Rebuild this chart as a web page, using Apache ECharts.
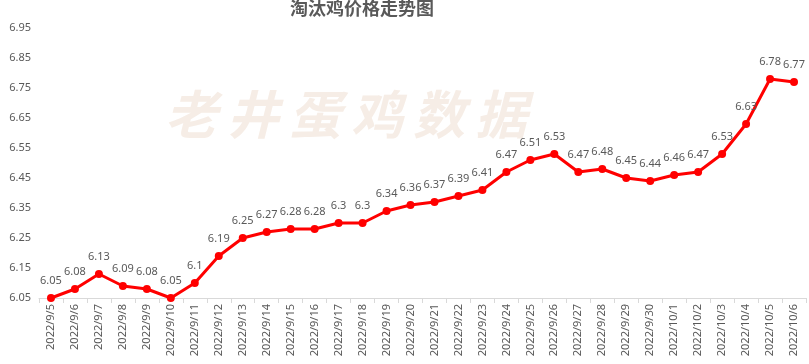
<!DOCTYPE html>
<html><head><meta charset="utf-8">
<script src="https://cdn.jsdelivr.net/npm/echarts@6/dist/echarts.min.js"></script>
<style>html,body{margin:0;padding:0;background:#fff}#c{width:809px;height:364px}</style>
</head><body><div id="c"></div>
<script>
const categories = ['2022/9/5','2022/9/6','2022/9/7','2022/9/8','2022/9/9','2022/9/10','2022/9/11','2022/9/12','2022/9/13','2022/9/14','2022/9/15','2022/9/16','2022/9/17','2022/9/18','2022/9/19','2022/9/20','2022/9/21','2022/9/22','2022/9/23','2022/9/24','2022/9/25','2022/9/26','2022/9/27','2022/9/28','2022/9/29','2022/9/30','2022/10/1','2022/10/2','2022/10/3','2022/10/4','2022/10/5','2022/10/6'];
const prices = [6.05,6.08,6.13,6.09,6.08,6.05,6.1,6.19,6.25,6.27,6.28,6.28,6.3,6.3,6.34,6.36,6.37,6.39,6.41,6.47,6.51,6.53,6.47,6.48,6.45,6.44,6.46,6.47,6.53,6.63,6.78,6.77];
const yMin = 6.05, yMax = 6.95, yStep = 0.1;
const titleText = '淘汰鸡价格走势图';
const watermark = '老井蛋鸡数据';

const chart = echarts.init(document.getElementById('c'));
chart.setOption({
  animation: false,
  title: { text: titleText, left: 357, top: -6, textAlign: 'center',
    textStyle: { fontFamily: 'Noto Sans CJK SC', fontWeight: 'bold', fontSize: 18, color: '#595959' } },
  graphic: watermark.split('').map((ch, i) => ({ type: 'text', left: 165 + i * 62, top: 88, z: 0,
    style: { text: ch, font: 'bold italic 52px "Noto Sans CJK SC"', fill: '#f6ede6' } })),
  grid: { left: 39, right: 3, top: 28, bottom: 66 },
  xAxis: { type: 'category', data: categories, boundaryGap: true,
    axisLine: { lineStyle: { color: '#d9d9d9' } },
    axisTick: { show: true, lineStyle: { color: '#d9d9d9' }, length: 5 },
    axisLabel: { rotate: 90, interval: 0, fontSize: 11, color: '#595959', fontFamily: 'Noto Sans', margin: 6 } },
  yAxis: { type: 'value', min: yMin, max: yMax, interval: yStep,
    splitLine: { show: false }, axisLine: { show: false }, axisTick: { show: false },
    axisLabel: { fontSize: 11, color: '#595959', fontFamily: 'Noto Sans', margin: 8,
      formatter: v => v.toFixed(2) } },
  series: [{ type: 'line', data: prices, symbol: 'circle', symbolSize: 8,
    lineStyle: { color: '#ff0000', width: 3 }, itemStyle: { color: '#ff0000' },
    label: { show: true, position: 'top', distance: 8, fontSize: 11, color: '#595959', fontFamily: 'Noto Sans' } }]
});
</script></body></html>
